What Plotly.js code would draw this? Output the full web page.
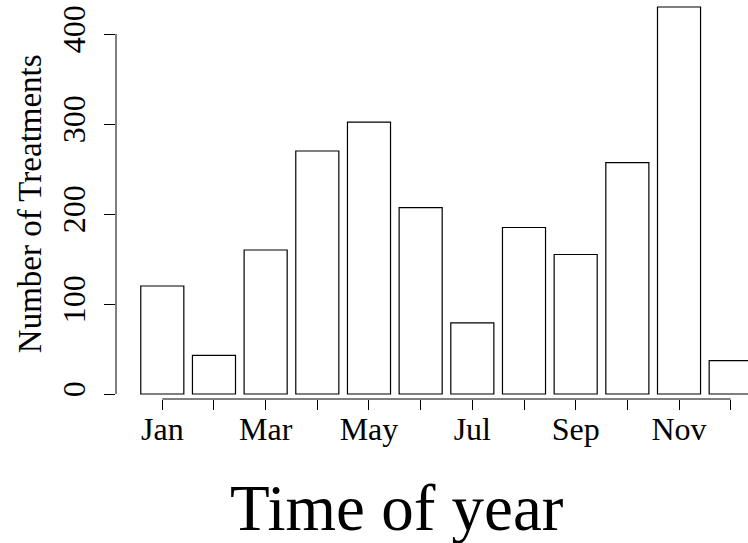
<!DOCTYPE html>
<html>
<head>
<meta charset="utf-8">
<script src="https://cdn.plot.ly/plotly-3.0.1.min.js"></script>
<style>
  html, body { margin: 0; padding: 0; background: #ffffff; }
  #chart { width: 748px; height: 543px; }
</style>
</head>
<body>
<div id="chart"></div>
<script>
// Monthly treatment counts
const months = ['Jan', 'Feb', 'Mar', 'Apr', 'May', 'Jun', 'Jul', 'Aug', 'Sep', 'Oct', 'Nov', 'Dec'];
const treatments = [120, 43, 160, 270, 302, 207, 79, 185, 155, 257, 430, 37];
// Only every other month is labelled along the axis
const monthLabels = ['Jan', '', 'Mar', '', 'May', '', 'Jul', '', 'Sep', '', 'Nov', ''];
const yTicks = [0, 100, 200, 300, 400];

const positions = months.map((m, i) => i);
const serif = 'Liberation Serif, Times New Roman, serif';

const trace = {
  type: 'bar',
  x: positions,
  y: treatments,
  width: 1 / 1.2,
  marker: { color: '#ffffff', line: { color: '#000000', width: 1.2 } },
  hovertext: months,
  hoverinfo: 'text+y'
};

const layout = {
  width: 748,
  height: 543,
  margin: { l: 116, r: 0, t: 0, b: 144 },
  paper_bgcolor: '#ffffff',
  plot_bgcolor: '#ffffff',
  showlegend: false,
  font: { family: serif, color: '#000000' },
  xaxis: {
    range: [-0.896, 11.335],
    tickmode: 'array',
    tickvals: positions,
    ticktext: monthLabels,
    ticks: 'outside',
    ticklen: 10,
    tickwidth: 1,
    tickcolor: '#000000',
    ticklabelstandoff: -8,
    tickfont: { family: serif, size: 32, color: '#000000' },
    showgrid: false,
    zeroline: false,
    showline: false,
    fixedrange: true
  },
  yaxis: {
    range: [-5.556, 437.78],
    tickmode: 'array',
    tickvals: yTicks,
    ticktext: yTicks.map(String),
    tickangle: -90,
    ticks: 'outside',
    ticklen: 11,
    tickwidth: 1,
    tickcolor: '#000000',
    ticklabelstandoff: 6,
    tickfont: { family: serif, size: 32, color: '#000000' },
    showgrid: false,
    zeroline: false,
    showline: false,
    fixedrange: true
  },
  shapes: [
    // x axis line spans first to last month only
    { type: 'line', xref: 'x', yref: 'paper', x0: positions[0], x1: positions[positions.length - 1], y0: 0, y1: 0,
      line: { color: '#000000', width: 1 } },
    // y axis line spans the tick range only
    { type: 'line', xref: 'paper', yref: 'y', x0: 0, x1: 0, y0: yTicks[0], y1: yTicks[yTicks.length - 1],
      line: { color: '#000000', width: 1 } }
  ],
  annotations: [
    { text: 'Time of year', xref: 'paper', yref: 'paper', x: (396.7 - 116) / 632, y: -0.177, xanchor: 'center', yanchor: 'top',
      showarrow: false, font: { family: serif, size: 65, color: '#000000' } },
    { text: 'Number of Treatments', xref: 'paper', yref: 'paper', x: -0.135, y: 0.49, textangle: -90,
      xanchor: 'center', yanchor: 'middle', showarrow: false, font: { family: serif, size: 33, color: '#000000' } }
  ]
};

Plotly.newPlot('chart', [trace], layout, { displayModeBar: false, staticPlot: true });
</script>
</body>
</html>
